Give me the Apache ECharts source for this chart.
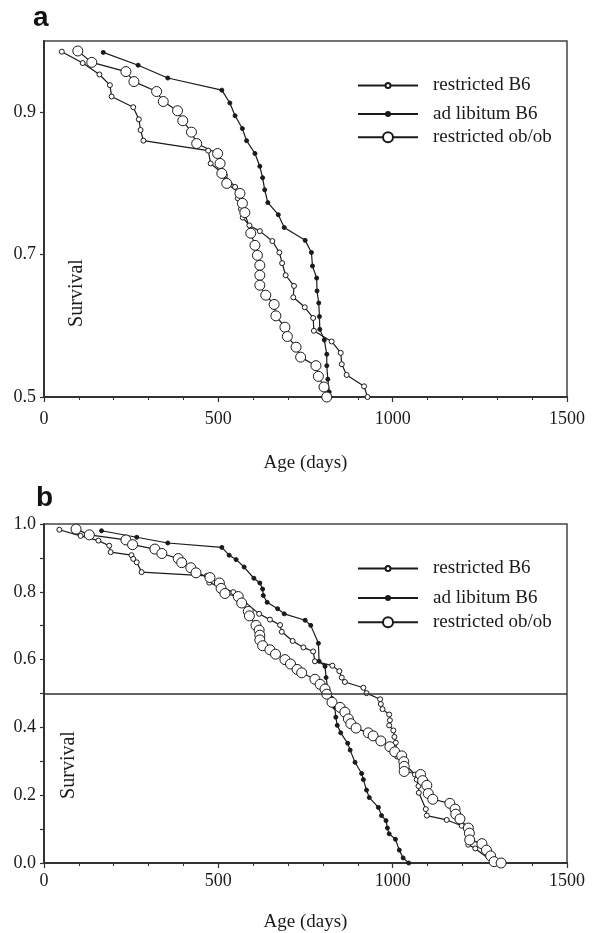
<!DOCTYPE html>
<html>
<head>
<meta charset="utf-8">
<script src="https://cdn.jsdelivr.net/npm/echarts@6/dist/echarts.min.js"></script>
<style>
html, body { margin: 0; padding: 0; background: #fff; }
#chart { width: 598px; height: 933px; }
</style>
</head>
<body>
<div id="chart"></div>
<script>
// [age in days, survival]
const aRestrictedB6 = [[51,0.985],[111,0.969],[159,0.953],[189,0.938],[194,0.922],[256,0.907],[272,0.890],[277,0.875],[285,0.860],[471,0.846],[478,0.828],[519,0.811],[548,0.795],[556,0.779],[565,0.764],[570,0.752],[589,0.741],[619,0.733],[655,0.719],[675,0.703],[683,0.688],[693,0.671],[717,0.656],[715,0.640],[748,0.626],[772,0.611],[774,0.593],[825,0.578],[851,0.562],[854,0.546],[868,0.531],[918,0.515],[928,0.5]]
const aAdLibB6 = [[170,0.984],[270,0.966],[355,0.948],[510,0.931],[533,0.913],[548,0.895],[569,0.877],[581,0.860],[605,0.842],[619,0.824],[627,0.808],[633,0.791],[642,0.773],[672,0.756],[689,0.738],[749,0.720],[767,0.703],[770,0.684],[782,0.667],[783,0.649],[788,0.632],[790,0.613],[791,0.595],[804,0.580],[811,0.560],[811,0.544],[814,0.525],[818,0.507],[816,0.5]]
const aObOb = [[97,0.986],[137,0.970],[235,0.957],[258,0.943],[323,0.929],[342,0.915],[383,0.902],[398,0.888],[423,0.872],[438,0.856],[498,0.842],[505,0.828],[510,0.814],[524,0.800],[562,0.786],[569,0.772],[576,0.759],[593,0.730],[605,0.713],[612,0.699],[619,0.685],[619,0.671],[619,0.657],[636,0.643],[660,0.630],[665,0.614],[691,0.598],[698,0.585],[723,0.570],[736,0.556],[780,0.544],[787,0.529],[803,0.514],[811,0.5]]

const bRestrictedB6 = [[44,0.983],[105,0.965],[156,0.951],[187,0.936],[191,0.917],[251,0.908],[256,0.897],[266,0.887],[280,0.858],[467,0.847],[474,0.827],[543,0.799],[617,0.735],[648,0.718],[677,0.702],[682,0.682],[713,0.655],[744,0.636],[772,0.624],[777,0.595],[827,0.582],[847,0.566],[854,0.547],[863,0.534],[916,0.517],[925,0.501],[964,0.483],[966,0.469],[971,0.454],[990,0.438],[992,0.421],[990,0.406],[1002,0.391],[1005,0.372],[1009,0.355],[1013,0.314],[1064,0.261],[1069,0.246],[1074,0.227],[1075,0.207],[1095,0.159],[1098,0.140],[1155,0.127],[1198,0.110],[1217,0.091],[1217,0.054],[1237,0.043],[1291,0]]
const bAdLibB6 = [[165,0.980],[266,0.961],[355,0.944],[510,0.931],[531,0.908],[551,0.895],[574,0.873],[602,0.840],[619,0.826],[627,0.808],[629,0.789],[640,0.769],[670,0.750],[689,0.735],[749,0.716],[765,0.701],[787,0.648],[789,0.595],[806,0.580],[809,0.547],[815,0.508],[825,0.486],[834,0.459],[837,0.430],[841,0.406],[851,0.384],[871,0.353],[878,0.333],[892,0.297],[911,0.264],[916,0.246],[925,0.215],[933,0.193],[959,0.164],[968,0.140],[981,0.125],[985,0.103],[990,0.086],[1008,0.070],[1019,0.038],[1030,0.015],[1046,0]]
const bObOb = [[92,0.985],[130,0.968],[235,0.953],[254,0.939],[318,0.926],[338,0.913],[385,0.898],[395,0.886],[421,0.871],[436,0.856],[476,0.842],[503,0.826],[508,0.810],[519,0.795],[557,0.786],[567,0.767],[586,0.742],[589,0.729],[608,0.701],[617,0.687],[619,0.672],[619,0.658],[627,0.641],[648,0.629],[664,0.616],[691,0.600],[707,0.587],[726,0.571],[739,0.561],[777,0.542],[792,0.527],[806,0.513],[811,0.498],[826,0.474],[849,0.459],[863,0.445],[873,0.425],[880,0.411],[895,0.398],[930,0.384],[944,0.375],[966,0.360],[992,0.343],[1006,0.328],[1026,0.316],[1032,0.299],[1033,0.285],[1033,0.270],[1080,0.261],[1086,0.243],[1098,0.229],[1102,0.205],[1115,0.188],[1164,0.176],[1179,0.159],[1181,0.144],[1193,0.130],[1217,0.103],[1220,0.088],[1221,0.068],[1256,0.057],[1269,0.038],[1281,0.021],[1291,0.004],[1311,0]]

const seriesNames = ['restricted B6', 'ad libitum B6', 'restricted ob/ob']
const aYLabels = [0.5, 0.7, 0.9]
const xName = 'Age (days)'
const yName = 'Survival'

const serif = '"Liberation Serif", "Times New Roman", serif'
const ink = '#1a1a1a'

// one entry per group: symbol look
const looks = [
  { symbolSize: 5, fill: '#fff' },
  { symbolSize: 4, fill: ink },
  { symbolSize: 10, fill: '#fff' },
]

const mkSeries = (name, data, idx, look, extra) => Object.assign({
  name,
  type: 'line',
  xAxisIndex: idx,
  yAxisIndex: idx,
  data,
  symbol: 'circle',
  symbolSize: look.symbolSize,
  showSymbol: true,
  lineStyle: { color: ink, width: 1.2 },
  itemStyle: { color: look.fill, borderColor: ink, borderWidth: 1 },
  emphasis: { disabled: true },
  animation: false,
}, extra || {})

const xAxisBase = (idx, labelMargin, nameGap) => ({
  type: 'value',
  gridIndex: idx,
  min: 0,
  max: 1500,
  interval: 500,
  name: xName,
  nameLocation: 'middle',
  nameGap,
  nameTextStyle: { fontFamily: serif, fontSize: 19, color: ink },
  axisLine: { show: true, onZero: false, lineStyle: { color: '#333', width: 2 } },
  axisTick: { show: true, length: 5, lineStyle: { color: '#333', width: 1.2 } },
  minorTick: { show: true, splitNumber: 5, length: 3, lineStyle: { color: '#333', width: 1 } },
  axisLabel: { fontFamily: serif, fontSize: 18, color: ink, margin: labelMargin, formatter: (v) => String(v) },
  splitLine: { show: false },
})

const legendFor = (name, top, look) => ({
  data: [name],
  left: 352,
  top: top - look.symbolSize / 0.8 / 2,
  itemWidth: 60,
  itemHeight: look.symbolSize / 0.8,
  selectedMode: false,
  textStyle: { fontFamily: serif, fontSize: 19, color: ink, padding: [0, 0, 0, 10] },
})

const chart = echarts.init(document.getElementById('chart'))
chart.setOption({
  backgroundColor: '#fff',
  animation: false,
  grid: [
    { left: 44, top: 41, width: 523, height: 356, show: true, borderColor: '#444', borderWidth: 1.5 },
    { left: 44, top: 524, width: 523, height: 344, show: true, borderColor: '#444', borderWidth: 1.5 },
  ],
  legend: [
    legendFor(seriesNames[0], 74, looks[0]),
    legendFor(seriesNames[1], 102, looks[1]),
    legendFor(seriesNames[2], 129, looks[2]),
    legendFor(seriesNames[0], 557, looks[0]),
    legendFor(seriesNames[1], 586, looks[1]),
    legendFor(seriesNames[2], 614, looks[2]),
  ],
  xAxis: [xAxisBase(0, 13, 57), xAxisBase(1, 9, 50)],
  yAxis: [
    {
      type: 'value',
      gridIndex: 0,
      min: 0.5,
      max: 1.0,
      axisLine: { show: true, lineStyle: { color: '#333', width: 2 } },
      axisTick: { show: true, length: 4, customValues: aYLabels, lineStyle: { color: '#333', width: 1.2 } },
      axisLabel: { customValues: aYLabels, fontFamily: serif, fontSize: 18, color: ink, margin: 8, formatter: (v) => v.toFixed(1) },
      splitLine: { show: false },
    },
    {
      type: 'value',
      gridIndex: 1,
      min: 0,
      max: 1.0,
      interval: 0.2,
      axisLine: { show: true, lineStyle: { color: '#333', width: 2 } },
      axisTick: { show: true, length: 4, lineStyle: { color: '#333', width: 1.2 } },
      minorTick: { show: true, splitNumber: 2, length: 4, lineStyle: { color: '#333', width: 1.2 } },
      axisLabel: { fontFamily: serif, fontSize: 18, color: ink, margin: 8, formatter: (v) => v.toFixed(1) },
      splitLine: { show: false },
    },
  ],
  graphic: [
    { type: 'text', left: 33, top: 4, style: { text: 'a', font: 'bold 28px "Liberation Sans", Arial, sans-serif', fill: '#111' } },
    { type: 'text', left: 36, top: 484, style: { text: 'b', font: 'bold 28px "Liberation Sans", Arial, sans-serif', fill: '#111' } },
    { type: 'text', x: 77, y: 293, rotation: Math.PI / 2, style: { text: yName, font: '20px ' + serif, fill: ink, textAlign: 'center', textVerticalAlign: 'middle' } },
    { type: 'text', x: 69, y: 765, rotation: Math.PI / 2, style: { text: yName, font: '20px ' + serif, fill: ink, textAlign: 'center', textVerticalAlign: 'middle' } },
  ],
  series: [
    mkSeries(seriesNames[0], aRestrictedB6, 0, looks[0]),
    mkSeries(seriesNames[1], aAdLibB6, 0, looks[1]),
    mkSeries(seriesNames[2], aObOb, 0, looks[2]),
    mkSeries(seriesNames[0], bRestrictedB6, 1, looks[0], {
      markLine: {
        silent: true,
        symbol: 'none',
        label: { show: false },
        lineStyle: { color: '#333', width: 1.5, type: 'solid' },
        data: [{ yAxis: 0.5 }],
      },
    }),
    mkSeries(seriesNames[1], bAdLibB6, 1, looks[1]),
    mkSeries(seriesNames[2], bObOb, 1, looks[2]),
  ],
})
</script>
</body>
</html>
